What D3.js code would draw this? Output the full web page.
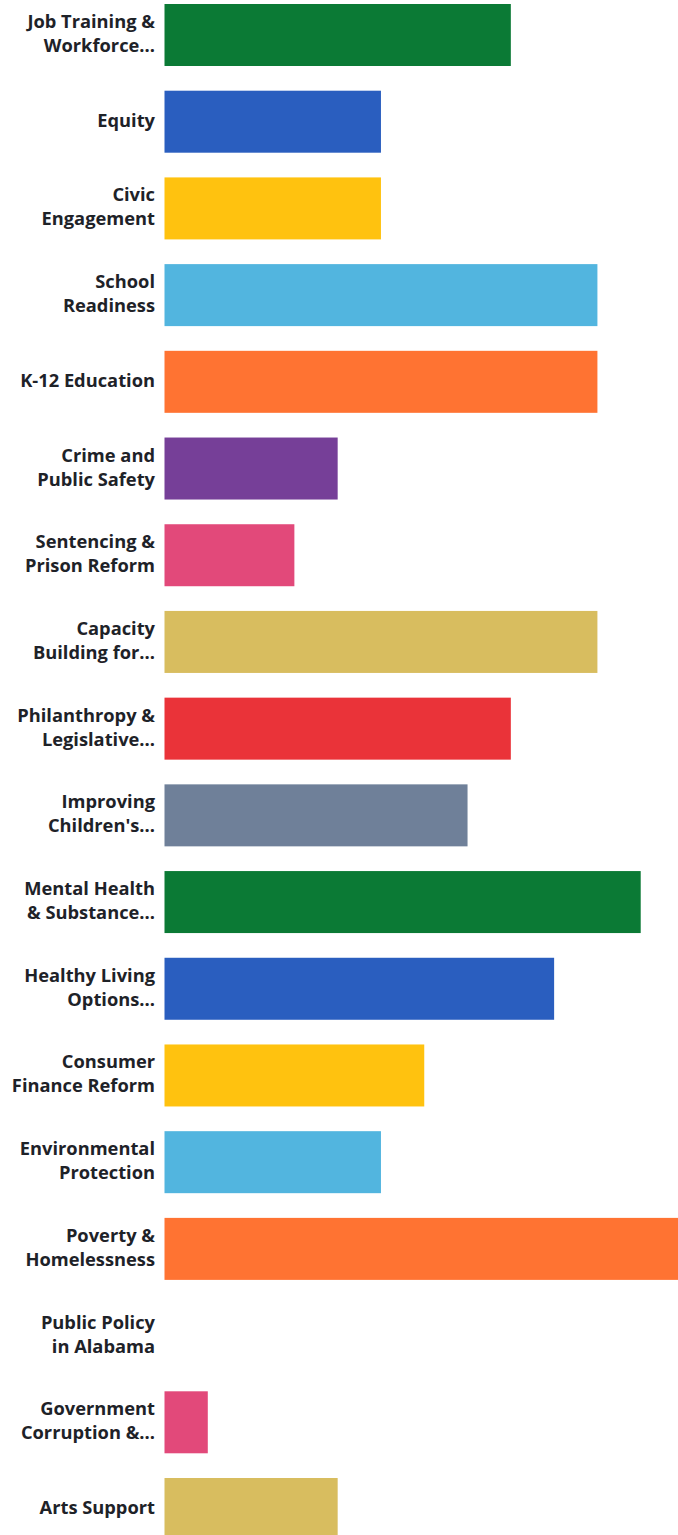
<!DOCTYPE html>
<html>
<head>
<meta charset="utf-8">
<script src="https://cdn.jsdelivr.net/npm/d3@7"></script>
<style>
  html, body { margin: 0; padding: 0; background: #ffffff; overflow: hidden; }
  svg { display: block; }
  .label { font-family: "Open Sans", sans-serif; font-weight: 700; font-size: 18.3px; fill: #1e2228; }
</style>
</head>
<body>
<svg id="chart" width="678" height="1535"></svg>
<script>
// Issue areas, in display order (each label may wrap onto two lines)
const categories = [
  ["Job Training &", "Workforce..."],
  ["Equity"],
  ["Civic", "Engagement"],
  ["School", "Readiness"],
  ["K-12 Education"],
  ["Crime and", "Public Safety"],
  ["Sentencing &", "Prison Reform"],
  ["Capacity", "Building for..."],
  ["Philanthropy &", "Legislative..."],
  ["Improving", "Children's..."],
  ["Mental Health", "& Substance..."],
  ["Healthy Living", "Options..."],
  ["Consumer", "Finance Reform"],
  ["Environmental", "Protection"],
  ["Poverty &", "Homelessness"],
  ["Public Policy", "in Alabama"],
  ["Government", "Corruption &..."],
  ["Arts Support"]
];

// Number of responses per issue area
const values = [8, 5, 5, 10, 10, 4, 3, 10, 8, 7, 11, 9, 6, 5, 12, 0, 1, 4];

// Repeating bar palette
const palette = ["#0b7a35", "#2a5ebf", "#ffc20f", "#52b5df", "#ff7332",
                 "#763f98", "#e2497a", "#d8bd5f", "#ea3339", "#6f8099"];

const keys = categories.map((c, i) => i);

const svg = d3.select("#chart");

const x = d3.scaleLinear().domain([0, 12]).range([164.5, 684]);
const y = d3.scaleBand().domain(keys).range([4, 1540]).paddingInner(0.285).paddingOuter(0);

svg.append("g").selectAll("rect")
  .data(keys)
  .join("rect")
  .attr("x", x(0))
  .attr("y", i => y(i))
  .attr("width", i => x(values[i]) - x(0))
  .attr("height", y.bandwidth())
  .attr("fill", i => palette[i % palette.length]);

const labels = svg.append("g").selectAll("text")
  .data(keys)
  .join("text")
  .attr("class", "label")
  .attr("text-anchor", "end")
  .attr("x", 155)
  .attr("y", i => y(i) + y.bandwidth() / 2);

const lineH = 24;
labels.each(function(i) {
  const lines = categories[i];
  const t = d3.select(this);
  const start = -(lines.length - 1) * lineH / 2;
  lines.forEach((ln, k) => {
    t.append("tspan")
      .attr("x", 155)
      .attr("dy", k === 0 ? start + 5 : lineH)
      .text(ln);
  });
});
</script>
</body>
</html>
